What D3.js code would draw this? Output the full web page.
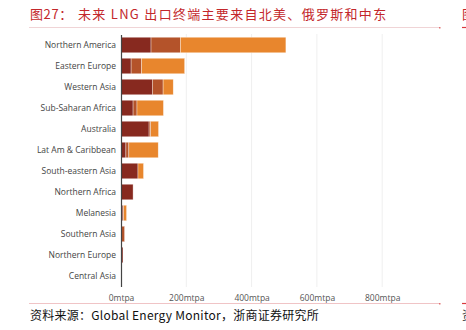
<!DOCTYPE html>
<html>
<head>
<meta charset="utf-8">
<script src="https://cdn.jsdelivr.net/npm/d3@7"></script>
<style>
  html, body { margin: 0; padding: 0; background: #fff; }
  svg { display: block; }
</style>
</head>
<body>
<svg id="chart" width="466" height="330"></svg>
<script>
// Export regions (top to bottom)
const regions = [
  "Northern America", "Eastern Europe", "Western Asia", "Sub-Saharan Africa",
  "Australia", "Lat Am & Caribbean", "South-eastern Asia", "Northern Africa",
  "Melanesia", "Southern Asia", "Northern Europe", "Central Asia"
];
// Export capacity by stage, mtpa
const operating    = [92, 31, 96, 37, 86, 15, 52, 37, 6, 0, 6, 0.5];
const construction = [90, 32, 33, 12, 5, 9, 0, 0, 2, 11, 0, 0];
const proposed     = [323, 132, 31, 81, 24, 90, 17, 0, 9, 0, 0, 0];
const stageColors  = ["#87291f", "#b4532a", "#e8862d"];
const tickValues   = [0, 200, 400, 600, 800];

const svg = d3.select("#chart");

// Title
svg.append("text")
  .attr("x", 30).attr("y", 19)
  .attr("fill", "#c3272b")
  .style("font-family", "'Noto Sans CJK SC', sans-serif")
  .style("font-size", "13px")
  .style("letter-spacing", "0.6px")
  .text("图27：");
svg.append("text")
  .attr("x", 78).attr("y", 19)
  .attr("fill", "#c3272b")
  .style("font-family", "'Noto Sans CJK SC', sans-serif")
  .style("font-size", "13px")
  .style("letter-spacing", "1.3px")
  .text("未来 LNG 出口终端主要来自北美、俄罗斯和中东");

// Rules above and below the figure
svg.append("line").attr("x1", 29).attr("x2", 439).attr("y1", 27.5).attr("y2", 27.5)
  .attr("stroke", "#f0d4d6").attr("stroke-width", 1);
svg.append("line").attr("x1", 29).attr("x2", 439).attr("y1", 303.5).attr("y2", 303.5)
  .attr("stroke", "#f0c4c6").attr("stroke-width", 1);
svg.append("rect").attr("x", 439).attr("y", 27).attr("width", 1.5).attr("height", 1.5).attr("fill", "#e07070");
svg.append("rect").attr("x", 439).attr("y", 303).attr("width", 1.5).attr("height", 1.5).attr("fill", "#e07070");
// Neighbouring column edge
svg.append("line").attr("x1", 462).attr("x2", 466).attr("y1", 27.5).attr("y2", 27.5)
  .attr("stroke", "#d8393d").attr("stroke-width", 1.2);
svg.append("line").attr("x1", 462).attr("x2", 466).attr("y1", 303.5).attr("y2", 303.5)
  .attr("stroke", "#d8393d").attr("stroke-width", 1.2);
svg.append("text").attr("x", 462).attr("y", 19).attr("fill", "#c3272b")
  .style("font-family", "'Noto Sans CJK SC', sans-serif").style("font-size", "13px").text("图");
svg.append("text").attr("x", 462).attr("y", 320).attr("fill", "#333")
  .style("font-family", "'Noto Sans CJK SC', sans-serif").style("font-size", "12px").text("资");

// Source note
svg.append("text")
  .attr("x", 30).attr("y", 320)
  .attr("fill", "#111")
  .style("font-family", "'Noto Sans CJK SC', serif")
  .style("font-size", "12px")
  .style("letter-spacing", "0.25px")
  .text("资料来源：Global Energy Monitor，浙商证券研究所");

// Plot area
const x = d3.scaleLinear().domain([0, 200]).range([121, 186.3]);
const y = d3.scaleBand().domain(regions).range([34.5, 286.5]).paddingInner(0.26).paddingOuter(0.13);

const g = svg.append("g");

// Gridlines and tick labels
const xAxis = d3.axisBottom(x).tickValues(tickValues).tickSize(0)
  .tickFormat(d => d + "mtpa");
const ax = g.append("g").attr("transform", "translate(0,286)").call(xAxis);
ax.select(".domain").remove();
ax.selectAll("text")
  .attr("y", 9)
  .attr("fill", "#555")
  .style("font-family", "'Open Sans', sans-serif")
  .style("font-size", "8.5px");
g.selectAll(".grid").data(tickValues.slice(1)).join("line")
  .attr("class", "grid")
  .attr("x1", d => x(d)).attr("x2", d => x(d))
  .attr("y1", 34).attr("y2", 287)
  .attr("stroke", "#efefef").attr("stroke-width", 1);

// Stacked bars
const rows = regions.map((r, i) => ({ region: r, values: [operating[i], construction[i], proposed[i]] }));
const stack = d3.stack().keys([0, 1, 2]).value((d, k) => d.values[k]);
const series = stack(rows);
g.selectAll(".series").data(series).join("g")
  .attr("fill", (d, i) => stageColors[i])
  .selectAll("rect").data(d => d.filter(s => s[1] - s[0] > 0)).join("rect")
  .attr("x", d => x(d[0]))
  .attr("y", d => y(d.data.region))
  .attr("width", d => Math.max(0, x(d[1]) - x(d[0])))
  .attr("height", y.bandwidth())
  .attr("stroke", "#fff").attr("stroke-opacity", 0.6).attr("stroke-width", 0.6);

// Category axis
const yAxis = d3.axisLeft(y).tickSize(0).tickPadding(5);
const ay = g.append("g").attr("transform", "translate(121,0)").call(yAxis);
ay.select(".domain").attr("stroke", "#444").attr("stroke-width", 1.2);
ay.selectAll("text")
  .attr("fill", "#444")
  .style("font-family", "'Open Sans', sans-serif")
  .style("font-size", "8.5px");
</script>
</body>
</html>
